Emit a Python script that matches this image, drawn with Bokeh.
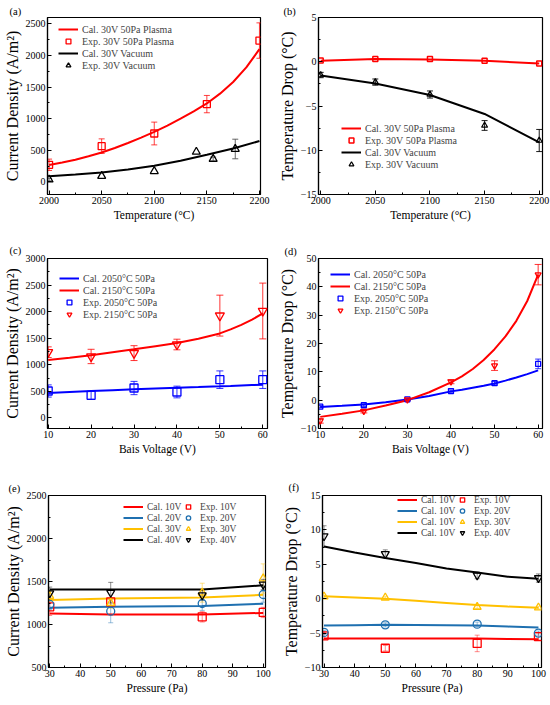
from bokeh.plotting import figure
from bokeh.models import (Range1d, SingleIntervalTicker, Legend, LegendItem, Whisker,
                          TeeHead, ColumnDataSource)
from bokeh.layouts import column, row
from bokeh.embed import file_html
from bokeh.resources import INLINE

# ---------------- data ----------------
# (a) current density vs temperature
a_cal_T = [2000, 2012.5, 2025, 2037.5, 2050, 2062.5, 2075, 2087.5, 2100,
           2112.5, 2125, 2137.5, 2150, 2162.5, 2175, 2187.5, 2200]
a_cal_plasma = [265, 305, 350, 405, 465, 535, 615, 700, 790,
                890, 1000, 1115, 1240, 1395, 1580, 1810, 2100]
a_cal_vac_T = [2000, 2025, 2050, 2075, 2100, 2125, 2150, 2175, 2200]
a_cal_vacuum = [90, 118, 148, 195, 255, 335, 430, 528, 645]
a_exp_T = [2000, 2050, 2100, 2150, 2200]
a_exp_plasma = [270, 565, 765, 1230, 2235]
a_exp_plasma_err = [90, 115, 180, 137, 280]
a_exp_vac_T = [2000, 2050, 2100, 2140, 2156, 2177]
a_exp_vacuum = [35, 92, 168, 474, 362, 520]
a_exp_vacuum_err = [20, 0, 0, 0, 30, 155]

# (b) temperature drop vs temperature
b_T = [2000, 2050, 2100, 2150, 2200]
b_cal_plasma = [0.1, 0.3, 0.25, 0.1, -0.2]
b_exp_plasma = [0.15, 0.3, 0.3, 0.1, -0.2]
b_cal_vacuum = [-1.55, -2.45, -3.75, -5.9, -9.1]
b_exp_vacuum = [-1.5, -2.3, -3.7, -7.2, -8.9]
b_exp_vacuum_err = [0.3, 0.35, 0.4, 0.55, 1.25]

# (c) current density vs bias voltage
c_cal_V = [10, 15, 20, 25, 30, 35, 40, 45, 50, 52.5, 55, 57.5, 60]
c_cal_2050 = [469, 487, 506, 521, 537, 553, 569, 581, 594, 601, 609, 617, 625]
c_cal_2150 = [1090, 1130, 1180, 1235, 1290, 1350, 1410, 1490, 1590, 1665, 1750, 1850, 1965]
c_V = [10, 20, 30, 40, 50, 60]
c_exp_2050 = [506, 425, 562, 487, 719, 719]
c_exp_2050_err = [115, 75, 125, 110, 165, 165]
c_exp_2150 = [1237, 1156, 1219, 1381, 1925, 2012]
c_exp_2150_err = [100, 135, 140, 100, 385, 525]

# (d) temperature drop vs bias voltage
d_cal_V = [10, 15, 20, 25, 30, 35, 40, 42.5, 45, 47.5, 50, 52.5, 55, 57.5, 60]
d_cal_2050 = [-2.4, -2.0, -1.5, -0.7, 0.2, 1.5, 3.1, 3.7, 4.4, 5.1, 5.9, 6.9, 8.0, 9.2, 10.5]
d_cal_2150 = [-5.9, -4.8, -3.6, -1.9, 0.0, 2.8, 6.3, 8.4, 11.0, 14.2, 18.0, 22.5, 28.0, 35.0, 44.3]
d_V = [10, 20, 30, 40, 50, 60]
d_exp_2050 = [-2.3, -1.8, 0.3, 3.2, 6.0, 12.8]
d_exp_2050_err = [0.4, 0.4, 0.3, 0.4, 0.6, 1.7]
d_exp_2150 = [-7.3, -3.9, 0.2, 6.5, 12.2, 44.3]
d_exp_2150_err = [0.8, 0.6, 0.3, 0.7, 1.7, 3.6]

# (e) current density vs pressure
e_P = [30, 50, 80, 100]
e_cal_10 = [1128, 1116, 1116, 1135]
e_cal_20 = [1195, 1205, 1215, 1242]
e_cal_30 = [1285, 1302, 1314, 1345]
e_cal_40 = [1408, 1408, 1407, 1455]
e_exp_10 = [1205, 1263, 1089, 1140]
e_exp_10_err = [100, 40, 60, 60]
e_exp_20 = [1233, 1155, 1244, 1349]
e_exp_20_err = [60, 135, 80, 90]
e_exp_30 = [1330, 1250, 1370, 1535]
e_exp_30_err = [60, 60, 110, 170]
e_exp_40 = [1365, 1370, 1341, 1465]
e_exp_40_err = [70, 120, 60, 60]

# (f) temperature drop vs pressure
f_cal_P = [30, 40, 50, 60, 70, 80, 90, 100]
f_cal_10 = [-5.8, -5.8, -5.8, -5.8, -5.8, -5.8, -5.85, -5.9]
f_cal_20 = [-3.9, -3.85, -3.8, -3.82, -3.86, -3.9, -4.05, -4.2]
f_cal_30 = [0.35, 0.18, 0.0, -0.3, -0.62, -0.93, -1.15, -1.3]
f_cal_40 = [7.6, 6.7, 5.9, 5.2, 4.4, 3.8, 3.2, 2.9]
f_P = [30, 50, 80, 100]
f_exp_10 = [-5.4, -7.2, -6.5, -5.5]
f_exp_10_err = [0.5, 0.4, 1.2, 0.5]
f_exp_20 = [-4.9, -3.8, -3.7, -5.0]
f_exp_20_err = [0.3, 0.3, 0.3, 0.3]
f_exp_30 = [0.3, 0.15, -1.2, -1.3]
f_exp_30_err = [0.2, 0.2, 0.2, 0.2]
f_exp_40 = [9.1, 6.5, 3.4, 3.0]
f_exp_40_err = [1.5, 0.6, 0.5, 0.6]

# ---------------- style ----------------
FONT = "Liberation Serif"
RED = "#ff0000"
BLUE = "#0000ff"
SBLUE = "#1f70b0"
GOLD = "#ffc000"
BLACK = "#000000"
MINUS = {-15: "\u221215", -10: "\u221210", -5: "\u22125"}


def make_fig(w, h, borders, xr, yr, xint, yint, xlabel, ylabel, tag, tag_off, tag_standoff):
    l, r, t, b = borders
    p = figure(width=w, height=h, x_range=Range1d(*xr), y_range=Range1d(*yr),
               output_backend="svg", toolbar_location=None,
               min_border_left=l, min_border_right=r, min_border_top=t, min_border_bottom=b)
    p.title.text = tag
    p.title.align = "left"
    p.title.offset = tag_off
    p.title.standoff = tag_standoff
    p.title.text_font = FONT
    p.title.text_font_size = "10.5px"
    p.title.text_font_style = "normal"
    p.title.text_color = "black"
    p.grid.visible = False
    p.outline_line_color = "black"
    p.outline_line_width = 1.2
    p.outline_line_alpha = 1
    p.xaxis.ticker = SingleIntervalTicker(interval=xint, num_minor_ticks=2)
    p.yaxis.ticker = SingleIntervalTicker(interval=yint, num_minor_ticks=2)
    p.xaxis.axis_label = xlabel
    p.yaxis.axis_label = ylabel
    for ax in (p.xaxis[0], p.yaxis[0]):
        ax.axis_line_color = "black"
        ax.axis_line_width = 1.2
        ax.major_tick_line_color = "black"
        ax.minor_tick_line_color = "black"
        ax.major_tick_in = 4
        ax.major_tick_out = 0
        ax.minor_tick_in = 2
        ax.minor_tick_out = 0
        ax.major_label_text_font = FONT
        ax.major_label_text_font_size = "10px"
        ax.major_label_text_color = "black"
        ax.major_label_standoff = 2
        ax.axis_label_text_font = FONT
        ax.axis_label_text_font_style = "normal"
        ax.axis_label_text_color = "black"
        ax.axis_label_standoff = 2
        ax.major_label_overrides = MINUS
    p.xaxis[0].axis_label_text_font_size = "11.5px"
    p.yaxis[0].axis_label_text_font_size = "16px"
    return p


def errbars(p, xs, ys, es, color, alpha=1.0, head=6):
    keep = [(x, y, e) for x, y, e in zip(xs, ys, es) if e > 0]
    src = ColumnDataSource(dict(x=[k[0] for k in keep],
                                upper=[k[1] + k[2] for k in keep],
                                lower=[k[1] - k[2] for k in keep]))
    p.add_layout(Whisker(source=src, base="x", upper="upper", lower="lower",
                         line_color=color, line_alpha=alpha, line_width=1,
                         upper_head=TeeHead(size=head, line_color=color, line_alpha=alpha, line_width=1),
                         lower_head=TeeHead(size=head, line_color=color, line_alpha=alpha, line_width=1)))


def legend(p, items, loc, rh=12, gw=20, standoff=4, fs="10px"):
    lg = Legend(items=[LegendItem(label=t, renderers=[r]) for t, r in items], location=loc,
                border_line_alpha=0, background_fill_alpha=0, label_text_font=FONT,
                label_text_font_size=fs, label_height=rh, glyph_height=rh, glyph_width=gw,
                spacing=0, padding=0, margin=0, label_standoff=standoff)
    p.add_layout(lg)


# ---------------- (a) ----------------
pa = make_fig(275, 230, (41, 15, 17, 30), (1998.5, 2201), (-200, 2600), 50, 500,
              "Temperature (\u00b0C)", "Current Density (A/m\u00b2)", "(a)", -38, 2)
ra1 = pa.line(a_cal_T, a_cal_plasma, line_color=RED, line_width=2)
errbars(pa, a_exp_T, a_exp_plasma, a_exp_plasma_err, RED, 0.75, 6)
ra2 = pa.scatter(a_exp_T, a_exp_plasma, marker="square", size=7, line_color=RED, fill_color=None, line_width=1.3)
ra3 = pa.line(a_cal_vac_T, a_cal_vacuum, line_color=BLACK, line_width=2)
errbars(pa, a_exp_vac_T, a_exp_vacuum, a_exp_vacuum_err, "#555555", 0.9, 6)
ra4 = pa.scatter(a_exp_vac_T, a_exp_vacuum, marker="triangle", size=8, line_color=BLACK, fill_color=None, line_width=1.3)
legend(pa, [("Cal. 30V 50Pa Plasma", ra1), ("Exp. 30V 50Pa Plasma", ra2),
            ("Cal. 30V Vacuum", ra3), ("Exp. 30V Vacuum", ra4)], (11, 123))

# ---------------- (b) ----------------
pb = make_fig(275, 230, (40, 8, 17, 36), (1998, 2203), (-15, 5), 50, 5,
              "Temperature (\u00b0C)", "Temperature Drop (\u00b0C)", "(b)", -35, 2)
rb1 = pb.line(b_T, b_cal_plasma, line_color=RED, line_width=2)
rb2 = pb.scatter(b_T, b_exp_plasma, marker="square", size=5, line_color=RED, fill_color=None, line_width=1.5)
rb3 = pb.line(b_T, b_cal_vacuum, line_color=BLACK, line_width=2)
errbars(pb, b_T, b_exp_vacuum, b_exp_vacuum_err, BLACK, 0.9, 6)
rb4 = pb.scatter(b_T, b_exp_vacuum, marker="triangle", size=6, line_color=BLACK, fill_color=None, line_width=1.2)
legend(pb, [("Cal. 30V 50Pa Plasma", rb1), ("Exp. 30V 50Pa Plasma", rb2),
            ("Cal. 30V Vacuum", rb3), ("Exp. 30V Vacuum", rb4)], (23, 24))

# ---------------- (c) ----------------
pc = make_fig(275, 230, (43, 8, 28, 32), (9.84, 61.1), (-200, 3000), 10, 500,
              "Bais Voltage (V)", "Current Density (A/m\u00b2)", "(c)", -38, 5)
rc1 = pc.line(c_cal_V, c_cal_2050, line_color=BLUE, line_width=2)
rc2 = pc.line(c_cal_V, c_cal_2150, line_color=RED, line_width=2)
errbars(pc, c_V, c_exp_2050, c_exp_2050_err, BLUE, 0.8, 7)
errbars(pc, c_V, c_exp_2150, c_exp_2150_err, RED, 0.8, 7)
rc3 = pc.scatter(c_V, c_exp_2050, marker="square", size=8, line_color=BLUE, fill_color=None, line_width=1.3)
rc4 = pc.scatter(c_V, c_exp_2150, marker="inverted_triangle", size=9, line_color=RED, fill_color=None, line_width=1.3)
legend(pc, [("Cal. 2050\u00b0C 50Pa", rc1), ("Cal. 2150\u00b0C 50Pa", rc2),
            ("Exp. 2050\u00b0C 50Pa", rc3), ("Exp. 2150\u00b0C 50Pa", rc4)], (12, 108))

# ---------------- (d) ----------------
pd_ = make_fig(275, 230, (41, 8, 25, 29), (9.6, 61), (-10, 50), 10, 10,
               "Bais Voltage (V)", "Temperature Drop (\u00b0C)", "(d)", -34, 3)
rd1 = pd_.line(d_cal_V, d_cal_2050, line_color=BLUE, line_width=2)
rd2 = pd_.line(d_cal_V, d_cal_2150, line_color=RED, line_width=2)
errbars(pd_, d_V, d_exp_2050, d_exp_2050_err, BLUE, 0.8, 6)
errbars(pd_, d_V, d_exp_2150, d_exp_2150_err, RED, 0.8, 7)
rd3 = pd_.scatter(d_V, d_exp_2050, marker="square", size=5, line_color=BLUE, fill_color=None, line_width=1.3)
rd4 = pd_.scatter(d_V, d_exp_2150, marker="inverted_triangle", size=6, line_color=RED, fill_color=None, line_width=1.3)
legend(pd_, [("Cal. 2050\u00b0C 50Pa", rd1), ("Cal. 2150\u00b0C 50Pa", rd2),
             ("Exp. 2050\u00b0C 50Pa", rd3), ("Exp. 2150\u00b0C 50Pa", rd4)], (12, 112))

# ---------------- (e) ----------------
pe = make_fig(275, 245, (48, 10, 35, 38), (29.6, 100.75), (500, 2500), 10, 500,
              "Pressure (Pa)", "Current Density (A/m\u00b2)", "(e)", -40, 3)
e_sets = [("10V", e_cal_10, e_exp_10, e_exp_10_err, RED, "square"),
          ("20V", e_cal_20, e_exp_20, e_exp_20_err, SBLUE, "circle"),
          ("30V", e_cal_30, e_exp_30, e_exp_30_err, GOLD, "triangle"),
          ("40V", e_cal_40, e_exp_40, e_exp_40_err, BLACK, "inverted_triangle")]
e_cal_items, e_exp_items = [], []
for lab, cal, exp, err, col, mk in e_sets:
    rl = pe.line(e_P, cal, line_color=col, line_width=2)
    e_cal_items.append(("Cal. " + lab, rl))
for lab, cal, exp, err, col, mk in e_sets:
    errbars(pe, e_P, exp, err, col, 0.45, 5)
    rm = pe.scatter(e_P, exp, marker=mk, size=8, line_color=col, fill_color=None, line_width=1.3)
    e_exp_items.append(("Exp. " + lab, rm))
legend(pe, e_cal_items, (75, 122), rh=11, gw=20, standoff=4, fs="9.5px")
legend(pe, e_exp_items, (134, 122), rh=11, gw=12, standoff=6, fs="9.5px")

# ---------------- (f) ----------------
pf = make_fig(275, 245, (47, 9, 31, 34), (29.5, 101), (-10, 15), 10, 5,
              "Pressure (Pa)", "Temperature Drop (\u00b0C)", "(f)", -34, 5)
f_sets = [("10V", f_cal_10, f_exp_10, f_exp_10_err, RED, "square"),
          ("20V", f_cal_20, f_exp_20, f_exp_20_err, SBLUE, "circle"),
          ("30V", f_cal_30, f_exp_30, f_exp_30_err, GOLD, "triangle"),
          ("40V", f_cal_40, f_exp_40, f_exp_40_err, BLACK, "inverted_triangle")]
f_cal_items, f_exp_items = [], []
for lab, cal, exp, err, col, mk in f_sets:
    rl = pf.line(f_cal_P, cal, line_color=col, line_width=2)
    f_cal_items.append(("Cal. 10V", rl))
for lab, cal, exp, err, col, mk in f_sets:
    errbars(pf, f_P, exp, err, col, 0.45, 5)
    rm = pf.scatter(f_P, exp, marker=mk, size=8, line_color=col, fill_color=None, line_width=1.3)
    f_exp_items.append(("Exp. " + lab, rm))
legend(pf, f_cal_items, (75, 129), rh=11, gw=20, standoff=4, fs="9.5px")
legend(pf, f_exp_items, (134, 129), rh=11, gw=12, standoff=6, fs="9.5px")

layout = column(row(pa, pb), row(pc, pd_), row(pe, pf))
open("out.html", "w").write(file_html(layout, INLINE))
